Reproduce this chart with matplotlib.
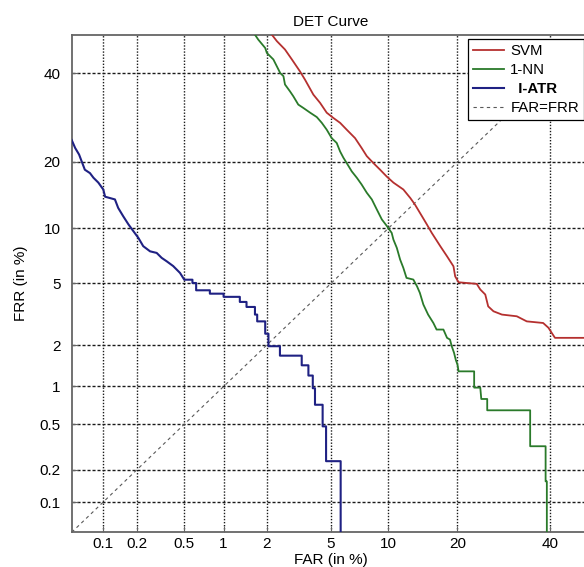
#**********************************************************
#DET curve of the three verifiers (normal deviate axes)
#**********************************************************

import matplotlib
matplotlib.use("Agg")
import matplotlib.pyplot as plt
import numpy as np
from statistics import NormalDist

plt.rcParams['font.family'] = ['Liberation Sans', 'DejaVu Sans']

#tick values shown on both axes (in %)
tick_vals = [0.1, 0.2, 0.5, 1, 2, 5, 10, 20, 40]
tick_labels = ['0.1', '0.2', '0.5', '1', '2', '5', '10', '20', '40']

#SVM operating points (FAR %, FRR %)
far_svm = [2.17, 2.34, 2.64, 2.92, 3.28, 3.52, 3.95, 4.33, 4.73, 5.16, 5.63, 6.12, 6.79, 7.35,
           7.82, 8.45, 9.13, 9.85, 10.6, 11.8, 12.7, 13.3, 14.3, 15.0, 15.75, 17.1, 18.2, 19.3,
           19.6, 20.2, 23.6, 24.3, 25.3, 25.9, 27.0, 28.8, 32.1, 34.4, 38.3, 39.6, 40.4, 41.2, 50.0]
frr_svm = [50.0, 48.3, 46.1, 43.5, 40.4, 38.3, 34.6, 32.6, 30.3, 29.1, 28.0, 26.5, 24.7, 22.7,
           21.1, 19.8, 18.6, 17.4, 16.4, 15.3, 14.0, 13.1, 11.5, 10.5, 9.5, 8.09, 7.14, 6.28,
           5.50, 5.08, 4.97, 4.60, 4.29, 3.62, 3.37, 3.21, 3.13, 2.90, 2.83, 2.63, 2.43, 2.25, 2.25]

#1-NN operating points
far_nn = [1.67, 1.76, 1.96, 2.01, 2.22, 2.34, 2.46, 2.58, 2.64, 2.84, 2.98, 3.20, 3.44, 3.78,
          4.14, 4.43, 4.73, 5.05, 5.39, 5.63, 5.87, 6.12, 6.52, 6.94, 7.35, 7.82, 8.30, 8.79,
          9.31, 9.85, 10.4, 10.6, 11.0, 11.4, 11.8, 12.2, 13.1, 13.6, 14.0, 14.5, 15.2, 16.0,
          16.5, 17.6, 18.2, 18.7, 19.0, 19.4, 19.7, 20.0, 20.2, 23.1, 23.1, 24.3, 24.5, 25.7,
          25.7, 35.2, 35.2, 38.9, 38.9, 39.2, 39.2]
frr_nn = [50.0, 48.7, 46.5, 45.2, 43.5, 41.7, 40.0, 39.2, 37.1, 35.4, 34.2, 32.2, 31.4, 30.3,
          29.3, 28.0, 26.5, 24.7, 23.7, 22.0, 20.8, 19.8, 18.3, 17.2, 16.1, 14.8, 13.8, 12.4,
          11.1, 10.3, 9.5, 8.77, 7.93, 6.85, 6.15, 5.39, 5.27, 4.81, 4.39, 3.72, 3.21, 2.83,
          2.56, 2.56, 2.25, 2.19, 1.97, 1.77, 1.58, 1.46, 1.30, 1.30, 0.98, 0.98, 0.80, 0.80,
          0.65, 0.65, 0.325, 0.325, 0.157, 0.157, 0.01]

#I-ATR operating points
far_iatr = [0.05, 0.054, 0.059, 0.0625, 0.067, 0.075, 0.081, 0.090, 0.100, 0.104, 0.128, 0.137,
            0.152, 0.169, 0.187, 0.207, 0.228, 0.261, 0.297, 0.327, 0.36, 0.407, 0.462, 0.5,
            0.58, 0.58, 0.62, 0.62, 0.79, 0.79, 1.0, 1.0, 1.31, 1.31, 1.46, 1.46, 1.67, 1.67,
            1.73, 1.73, 1.96, 1.96, 2.06, 2.06, 2.45, 2.45, 3.36, 3.36, 3.69, 3.69, 3.92, 3.92,
            4.04, 4.04, 4.48, 4.48, 4.69, 4.69, 5.67, 5.67]
frr_iatr = [24.3, 22.7, 21.4, 20.1, 18.6, 18.0, 17.2, 16.4, 15.3, 14.2, 13.8, 12.6, 11.5, 10.5,
            9.7, 8.95, 8.1, 7.6, 7.45, 7.0, 6.7, 6.3, 5.76, 5.26, 5.26, 5.03, 5.03, 4.55, 4.55,
            4.34, 4.34, 4.15, 4.15, 3.86, 3.86, 3.59, 3.59, 3.21, 3.21, 2.90, 2.90, 2.40, 2.40,
            1.97, 1.97, 1.69, 1.69, 1.44, 1.44, 1.21, 1.21, 0.97, 0.97, 0.72, 0.72, 0.48, 0.48,
            0.24, 0.24, 0.01]

#equal error line
diag = [0.05, 50.0]

#axis range (in %)
lim = (0.05, 50.0)

nd = NormalDist()
_inv = np.vectorize(nd.inv_cdf, otypes=[float])
_cdf = np.vectorize(nd.cdf, otypes=[float])

#percent -> normal deviate
def to_dev(p):
	p = np.clip(np.asarray(p, dtype=float) / 100.0, 1e-9, 1 - 1e-9)
	return _inv(p)

#normal deviate -> percent
def from_dev(z):
	return _cdf(np.asarray(z, dtype=float)) * 100.0

fig = plt.figure(figsize=(5.84, 5.67), dpi=100)
#axes run past the right border, as in the cropped original
ax = fig.add_axes([0.1228, 0.0612, 0.8875, 0.8776])
ax.set_xscale('function', functions=(to_dev, from_dev))
ax.set_yscale('function', functions=(to_dev, from_dev))

ax.plot(far_svm, frr_svm, color='#b5302f', linewidth=1.3, label='SVM', zorder=3)
ax.plot(far_nn, frr_nn, color='#2a7a2a', linewidth=1.3, label='1-NN', zorder=3)
ax.plot(far_iatr, frr_iatr, color='#1f2183', linewidth=1.5, label='  I-ATR', zorder=3)
ax.plot(diag, diag, color='0.35', linewidth=0.8, linestyle=(0, (3, 3)), label='FAR=FRR', zorder=2)

ax.set_xlim(lim)
ax.set_ylim(lim)

#ticks
ax.set_xticks(tick_vals)
ax.set_xticklabels(tick_labels)
ax.set_yticks(tick_vals)
ax.set_yticklabels(tick_labels)
ax.xaxis.set_minor_locator(matplotlib.ticker.NullLocator())
ax.yaxis.set_minor_locator(matplotlib.ticker.NullLocator())
ax.tick_params(axis='both', direction='in', length=4, color='#666666', labelsize=11)
ax.tick_params(axis='x', pad=3.5)
ax.tick_params(axis='y', pad=8)

#grid, dotted verticals and dashed horizontals
ax.xaxis.grid(True, color='#1a1a1a', linestyle=(0, (1, 1.2)), linewidth=1.0)
ax.yaxis.grid(True, color='#1a1a1a', linestyle=(0, (2.2, 1.4)), linewidth=1.0)
ax.set_axisbelow(True)

for s in ax.spines.values():
	s.set_color('#666666')
	s.set_linewidth(1.3)

ax.set_title('DET Curve', fontsize=11, pad=6)
ax.set_xlabel('FAR (in %)', fontsize=11, labelpad=1)
ax.set_ylabel('FRR (in %)', fontsize=11, labelpad=8)

leg = ax.legend(loc='upper left', bbox_to_anchor=(468.3 / 584, 1 - 39.3 / 567),
                bbox_transform=fig.transFigure, fancybox=False, edgecolor='k', framealpha=1,
                borderaxespad=0, handlelength=2.1, handletextpad=0.4, borderpad=0.3,
                labelspacing=0.34, fontsize=10.8)
leg.get_frame().set_linewidth(0.9)
leg.get_texts()[2].set_fontweight('bold')
leg.set_zorder(5)

fig.savefig('out.png', dpi=100)
